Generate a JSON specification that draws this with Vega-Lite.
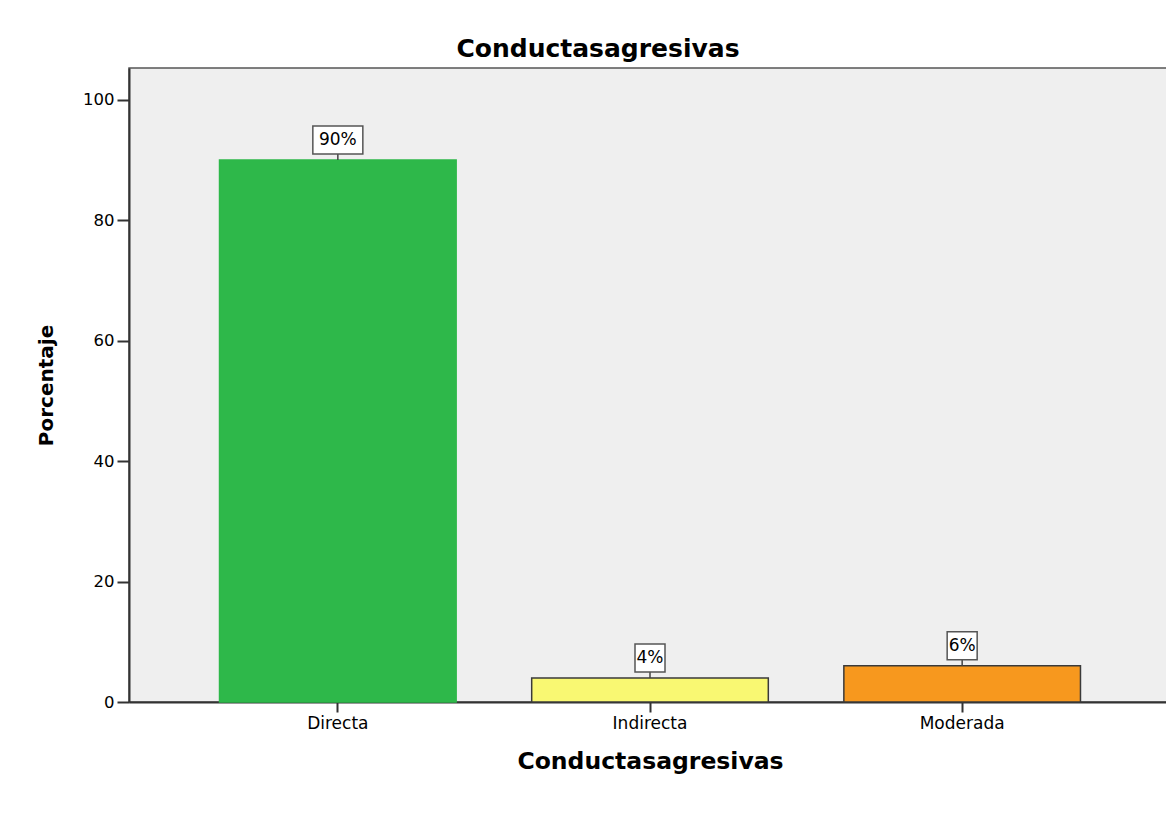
{
  "$schema": "https://vega.github.io/schema/vega-lite/v6.json",
  "autosize": {"type": "none"},
  "padding": {"left": 129, "top": 68, "right": 0, "bottom": 123},
  "width": 1042,
  "height": 634,
  "background": "white",
  "title": {
    "text": "Conductasagresivas",
    "font": "DejaVu Sans",
    "fontSize": 25,
    "fontWeight": "bold",
    "color": "#000000",
    "anchor": "middle",
    "frame": "group",
    "baseline": "alphabetic",
    "offset": 11,
    "dx": -52,
    "dy": 25
  },
  "data": {
    "values": [
      {"categoria": "Directa", "porcentaje": 90, "label": "90%"},
      {"categoria": "Indirecta", "porcentaje": 4, "label": "4%"},
      {"categoria": "Moderada", "porcentaje": 6, "label": "6%"}
    ]
  },
  "encoding": {
    "x": {
      "field": "categoria",
      "type": "nominal",
      "sort": ["Directa", "Indirecta", "Moderada"],
      "scale": {"paddingInner": 0.242, "paddingOuter": 0.29},
      "axis": {
        "title": "Conductasagresivas",
        "titleFont": "DejaVu Sans",
        "titleFontSize": 23.5,
        "titleFontWeight": "bold",
        "titleColor": "#000000",
        "titlePadding": 18,
        "labelAngle": 0,
        "labelFont": "DejaVu Sans",
        "labelFontSize": 17,
        "labelColor": "#000000",
        "labelPadding": 3,
        "tickSize": 10,
        "tickWidth": 2,
        "tickColor": "#333333",
        "domainColor": "#333333",
        "domainWidth": 2
      }
    },
    "y": {
      "field": "porcentaje",
      "type": "quantitative",
      "scale": {"domain": [0, 105.3], "nice": false},
      "axis": {
        "title": "Porcentaje",
        "titleFont": "DejaVu Sans",
        "titleFontSize": 20,
        "titleFontWeight": "bold",
        "titleColor": "#000000",
        "titlePadding": 26,
        "values": [0, 20, 40, 60, 80, 100],
        "labelFont": "DejaVu Sans",
        "labelFontSize": 16.5,
        "labelColor": "#000000",
        "labelPadding": 3,
        "tickSize": 12,
        "tickWidth": 2,
        "tickColor": "#333333",
        "domainColor": "#333333",
        "domainWidth": 2,
        "grid": false
      }
    }
  },
  "layer": [
    {
      "mark": {"type": "bar", "strokeWidth": 1.5},
      "encoding": {
        "color": {
          "field": "categoria",
          "type": "nominal",
          "scale": {"domain": ["Directa", "Indirecta", "Moderada"], "range": ["#2EB84A", "#F9F872", "#F7981E"]},
          "legend": null
        },
        "stroke": {
          "field": "categoria",
          "type": "nominal",
          "scale": {"domain": ["Directa", "Indirecta", "Moderada"], "range": ["#2EB84A", "#3a3a3a", "#3a3a3a"]},
          "legend": null
        }
      }
    },
    {
      "mark": {"type": "rule", "y2Offset": -7, "color": "#444444", "strokeWidth": 1.5},
      "encoding": {
        "y2": {"field": "porcentaje"}
      }
    },
    {
      "mark": {"type": "point", "filled": true, "fill": "white", "stroke": "#555555", "strokeWidth": 1.5, "opacity": 1, "size": 2500, "yOffset": -20},
      "encoding": {
        "shape": {
          "field": "label",
          "type": "nominal",
          "scale": {"domain": ["90%", "4%", "6%"], "range": ["M-1,-0.56H1V0.56H-1Z", "M-0.6,-0.56H0.6V0.56H-0.6Z", "M-0.6,-0.56H0.6V0.56H-0.6Z"]},
          "legend": null
        }
      }
    },
    {
      "mark": {"type": "text", "font": "DejaVu Sans", "fontSize": 17, "color": "#000000", "baseline": "middle", "align": "center", "yOffset": -20},
      "encoding": {
        "text": {"field": "label", "type": "nominal"}
      }
    }
  ],
  "config": {
    "view": {"fill": "#EFEFEF", "stroke": "#555555", "strokeWidth": 1.5}
  }
}
